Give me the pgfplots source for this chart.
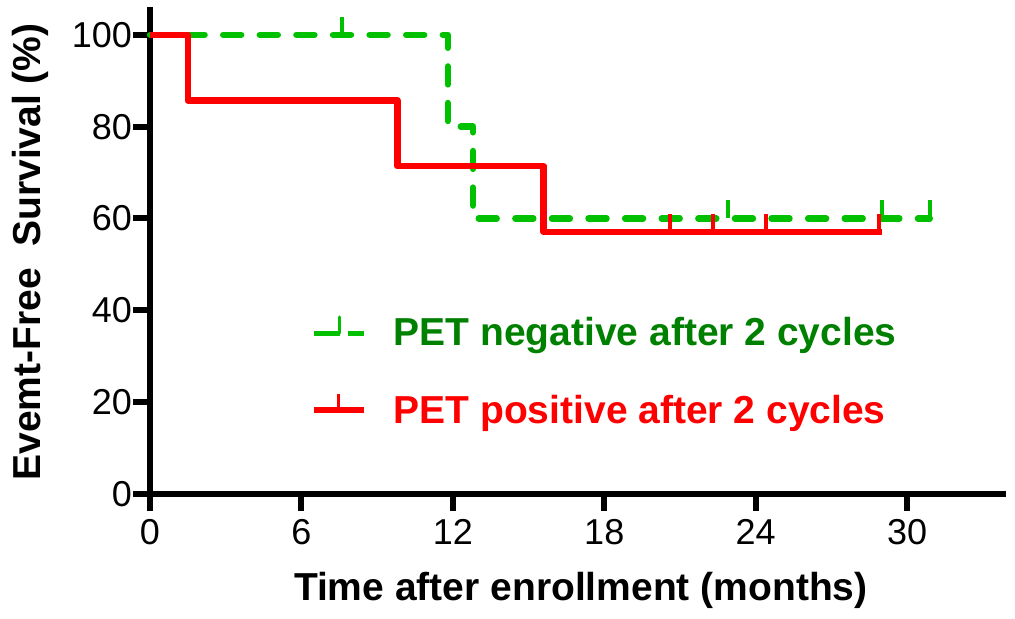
\documentclass[border=0pt]{standalone}
\usepackage{fontspec}
\setmainfont{Liberation Sans}
\usepackage{pgfplots}
\pgfplotsset{compat=1.18}
\definecolor{kmgreen}{RGB}{0,192,0}
\definecolor{txtgreen}{RGB}{0,128,0}
\definecolor{kmred}{RGB}{255,0,0}
\pgfdeclareplotmark{cens}{\pgfpathmoveto{\pgfpointorigin}\pgfpathlineto{\pgfqpoint{0pt}{\pgfplotmarksize}}\pgfusepathqstroke}
\begin{document}
\begin{tikzpicture}
\useasboundingbox (-75pt,-62pt) rectangle (432.5pt,247pt);
\begin{axis}[
  scale only axis, width=426.5pt, height=242pt,
  xmin=0, xmax=33.8, ymin=0, ymax=105.4,
  axis lines*=left,
  axis line style={line width=3.2pt, line cap=rect},
  xtick={0,6,...,30}, ytick={0,20,...,100},
  tick align=outside, major tick length=8.5pt,
  tick style={line width=3pt, black},
  /pgf/number format/assume math mode=true,
  ticklabel style={font=\fontsize{18}{18}\selectfont},
  xticklabel style={yshift=-0.5pt},
  yticklabel style={xshift=3pt},
  xlabel={Time after enrollment (months)},
  ylabel={Evemt-Free\ \ Survival (\%)},
  every axis x label/.style={at={(axis description cs:0.505,-0.219)}, anchor=base, font=\fontsize{19.5}{20}\selectfont\bfseries},
  every axis y label/.style={at={(axis description cs:-0.1407,0.5)}, anchor=center, rotate=90, font=\fontsize{19.5}{20}\selectfont\bfseries},
  clip=false,
  legend style={at={(axis cs:6.35,39.4)}, anchor=north west, draw=none, fill=none,
    inner sep=0pt, row sep=19pt, font=\fontsize{19.5}{20}\selectfont\bfseries},
  legend cell align=left,
]
\addplot[kmgreen, line width=3.2pt, dash pattern=on 9pt off 9.3pt, line cap=round, line join=round, const plot,
  legend image code/.code={
    \draw[kmgreen, solid, line width=2.6pt, line cap=butt] (0pt,0pt) -- (13pt,0pt);
    \draw[kmgreen, solid, line width=1.8pt] (13pt,0pt) -- (13pt,8pt);
    \draw[kmgreen, solid, line width=2.6pt, line cap=butt] (17pt,0pt) -- (25pt,0pt);
    \path[draw=none] (0pt,0pt) -- (38pt,0pt);
  }]
  coordinates {(0,100) (11.8,80) (12.8,60) (30.9,60)};
\addlegendentry{\textcolor{txtgreen}{PET negative after 2 cycles}}
\addplot[kmred, line width=3.2pt, line join=round, const plot,
  legend image code/.code={
    \draw[kmred, solid, line width=3pt, line cap=butt] (0pt,0pt) -- (25pt,0pt);
    \draw[kmred, solid, line width=1.8pt] (12.5pt,0pt) -- (12.5pt,8pt);
    \path[draw=none] (0pt,0pt) -- (38pt,0pt);
  }]
  coordinates {(0,100) (1.5,85.7) (9.8,71.4) (15.6,57.1) (29.0,57.1)};
\addlegendentry{\textcolor{kmred}{PET positive after 2 cycles}}
\addplot[forget plot, only marks, mark=cens, mark size=9pt, kmgreen, solid, line width=2pt]
  coordinates {(7.6,100) (22.9,60) (29.0,60) (30.9,60)};
\addplot[forget plot, only marks, mark=cens, mark size=9pt, kmred, solid, line width=2pt]
  coordinates {(20.6,57.1) (22.3,57.1) (24.4,57.1) (28.9,57.1)};
\end{axis}
\end{tikzpicture}
\end{document}
